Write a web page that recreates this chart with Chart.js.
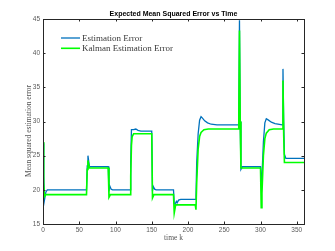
<!DOCTYPE html>
<html>
<head>
<meta charset="utf-8">
<script src="https://cdn.jsdelivr.net/npm/chart.js@4"></script>
<style>
  html, body { margin: 0; padding: 0; background: #fff; }
  #wrap { width: 335px; height: 251px; }
</style>
</head>
<body>
<div id="wrap"><canvas id="myChart" width="335" height="251"></canvas></div>
<script>
// time steps and values (key points only)
const estK = [0, 1, 2, 4, 6, 60, 61, 62, 64, 90, 91, 92, 94, 96, 120, 121, 122, 125, 128, 131, 135, 150, 151, 152, 154, 156, 180, 181, 182, 184, 185, 187, 190, 210, 211, 212, 214, 216, 218, 220, 223, 227, 232, 240, 270, 271, 272, 273, 275, 300, 301, 302, 304, 306, 308, 311, 315, 320, 330, 331, 332, 333, 335, 360];
const estErr = [26.8, 22, 18.5, 19.7, 20.0, 20.0, 23.5, 25.0, 23.4, 23.4, 19.8, 20.6, 20.1, 20.0, 20.0, 24, 28.8, 28.8, 28.9, 28.7, 28.6, 28.6, 19.8, 20.5, 20.1, 20.0, 20.0, 18.0, 17.9, 18.3, 18.1, 18.5, 18.6, 18.6, 19, 24, 28.2, 30.2, 30.7, 30.5, 30.1, 29.8, 29.6, 29.5, 29.5, 44.8, 30, 23.0, 23.4, 23.4, 21, 22, 27, 29.8, 30.4, 30.2, 29.9, 29.7, 29.5, 37.7, 30, 25.2, 24.6, 24.6];
const kalK = [0, 1, 2, 4, 60, 61, 62, 64, 90, 91, 93, 120, 121, 122, 123, 125, 150, 151, 153, 180, 181, 183, 210, 211, 212, 214, 216, 218, 222, 228, 270, 271, 272, 273, 300, 301, 302, 304, 306, 308, 312, 318, 330, 331, 332, 333, 360];
const kalErr = [27.0, 21, 19.0, 19.3, 19.3, 23, 24.3, 23.2, 23.2, 18.9, 19.3, 19.3, 22, 26.5, 27.8, 28.2, 28.2, 18.8, 19.3, 19.3, 16.6, 17.8, 17.8, 17.1, 21, 26, 27.8, 28.4, 28.8, 28.9, 28.9, 43.3, 30, 23.2, 23.2, 17.4, 19.5, 25, 27.5, 28.3, 28.8, 28.9, 28.9, 36.0, 28, 24.0, 24.0];

const xTicks = [0, 50, 100, 150, 200, 250, 300, 350];
const yTicks = [15, 20, 25, 30, 35, 40, 45];

function toPoints(ks, vs) {
    let pts = [];
    for (let i = 0; i < ks.length; i++) {
        pts.push({ x: ks[i], y: vs[i] });
    }
    return pts;
}

// MATLAB-style box, inward ticks, title, axis titles and legend
const matlabFrame = {
    id: 'matlabFrame',
    afterDatasetsDraw(chart) {
        const ctx = chart.ctx;
        const a = chart.chartArea;
        const xs = chart.scales.x;
        const ys = chart.scales.y;
        ctx.save();
        ctx.strokeStyle = '#262626';
        ctx.lineWidth = 1;
        ctx.strokeRect(Math.round(a.left) + 0.5, Math.round(a.top) + 0.5,
            Math.round(a.right - a.left), Math.round(a.bottom - a.top));
        const tl = 2.5;
        ctx.beginPath();
        xTicks.forEach(v => {
            const px = Math.round(xs.getPixelForValue(v)) + 0.5;
            ctx.moveTo(px, a.bottom); ctx.lineTo(px, a.bottom - tl);
            ctx.moveTo(px, a.top); ctx.lineTo(px, a.top + tl);
        });
        yTicks.forEach(v => {
            const py = Math.round(ys.getPixelForValue(v)) + 0.5;
            ctx.moveTo(a.left, py); ctx.lineTo(a.left + tl, py);
            ctx.moveTo(a.right, py); ctx.lineTo(a.right - tl, py);
        });
        ctx.stroke();

        // title
        ctx.fillStyle = '#000';
        ctx.font = 'bold 7px "Liberation Sans", Arial, sans-serif';
        ctx.textAlign = 'center';
        ctx.textBaseline = 'alphabetic';
        ctx.fillText('Expected Mean Squared Error vs Time', (a.left + a.right) / 2, 16);

        // axis titles
        ctx.fillStyle = '#555';
        ctx.font = '7.5px "Liberation Serif", "Times New Roman", serif';
        ctx.fillText('time k', (a.left + a.right) / 2, 240);
        ctx.save();
        ctx.translate(31, 131);
        ctx.rotate(-Math.PI / 2);
        ctx.fillText('Mean squared estimation error', 0, 0);
        ctx.restore();

        // legend
        ctx.font = '9px "Liberation Serif", "Times New Roman", serif';
        ctx.textAlign = 'left';
        ctx.textBaseline = 'middle';
        const rows = [chart.data.datasets[0], chart.data.datasets[1]];
        rows.forEach((ds, i) => {
            const y = 38 + i * 10.3;
            ctx.strokeStyle = ds.borderColor;
            ctx.lineWidth = ds.borderWidth;
            ctx.beginPath();
            ctx.moveTo(61, y); ctx.lineTo(80, y);
            ctx.stroke();
            ctx.fillStyle = '#3a3a3a';
            ctx.fillText(ds.label, 82, y + 0.5);
        });
        ctx.restore();
    }
};

const data = {
    datasets: [
        {
            label: 'Estimation Error',
            data: toPoints(estK, estErr),
            borderColor: '#0072BD',
            borderWidth: 1.3,
            pointRadius: 0,
            tension: 0,
            order: 1
        },
        {
            label: 'Kalman Estimation Error',
            data: toPoints(kalK, kalErr),
            borderColor: '#00ff00',
            borderWidth: 1.6,
            pointRadius: 0,
            tension: 0,
            order: 0
        }
    ]
};

const config = {
    type: 'line',
    data: data,
    options: {
        responsive: false,
        animation: false,
        events: [],
        layout: { padding: { top: 19, right: 31, left: 0, bottom: 0 } },
        plugins: {
            legend: { display: false },
            title: { display: false },
            tooltip: { enabled: false }
        },
        scales: {
            x: {
                type: 'linear',
                min: 0,
                max: 360,
                afterBuildTicks: s => { s.ticks = xTicks.map(v => ({ value: v })); },
                afterFit: s => { s.height = 27; },
                grid: { display: false, drawTicks: false },
                border: { display: false },
                ticks: {
                    padding: 2,
                    color: '#595959',
                    font: { family: '"Liberation Sans", Arial, sans-serif', size: 6.5 },
                    maxRotation: 0
                }
            },
            y: {
                type: 'linear',
                min: 15,
                max: 45,
                afterBuildTicks: s => { s.ticks = yTicks.map(v => ({ value: v })); },
                afterFit: s => { s.width = 43; },
                grid: { display: false, drawTicks: false },
                border: { display: false },
                ticks: {
                    padding: 3,
                    color: '#595959',
                    font: { family: '"Liberation Sans", Arial, sans-serif', size: 6.5 }
                }
            }
        }
    },
    plugins: [matlabFrame]
};

window.mychart = new Chart(document.getElementById('myChart'), config);
</script>
</body>
</html>
